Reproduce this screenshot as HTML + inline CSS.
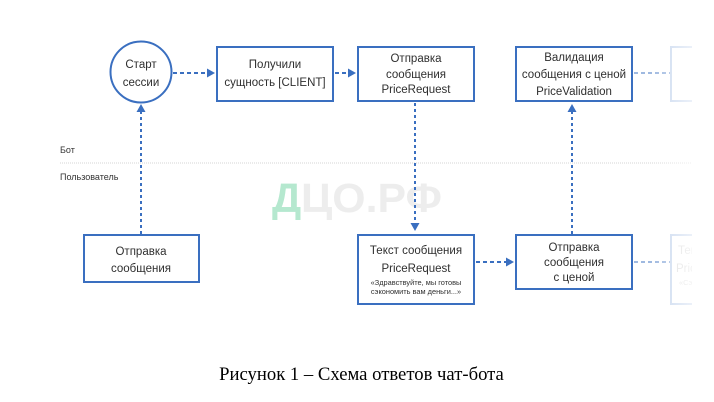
<!DOCTYPE html>
<html>
<head>
<meta charset="utf-8">
<style>
  html,body{margin:0;padding:0;background:#fff;}
  body{width:714px;height:402px;overflow:hidden;}
  svg{display:block;}
  .t{font-family:"Liberation Sans","Noto Sans CJK SC",sans-serif;font-size:11.5px;fill:#2f2f2f;text-anchor:middle;}
  .s{font-family:"Liberation Sans","Noto Sans CJK SC",sans-serif;font-size:7.4px;fill:#2f2f2f;text-anchor:middle;}
  .l{font-family:"Liberation Sans","Noto Sans CJK SC",sans-serif;font-size:9px;fill:#333;}
  .cap{font-family:"Liberation Serif","Noto Serif CJK SC",serif;font-size:18.67px;fill:#000;text-anchor:middle;}
</style>
</head>
<body>
<svg width="714" height="402" viewBox="0 0 714 402" xmlns="http://www.w3.org/2000/svg">
  <defs>
    <linearGradient id="fade" x1="0" x2="1" y1="0" y2="0">
      <stop offset="0" stop-color="#fff" stop-opacity="0"/>
      <stop offset="1" stop-color="#fff" stop-opacity="1"/>
    </linearGradient>
  </defs>

  <!-- lane labels and divider -->
  <text class="l" x="60" y="153">Бот</text>
  <line x1="60" y1="163" x2="700" y2="163" stroke="#d6d6d6" stroke-width="1" stroke-dasharray="1 1"/>
  <text class="l" x="60" y="180">Пользователь</text>

  <!-- watermark -->
  <text x="272" y="212" font-family="Liberation Sans, sans-serif" font-size="41" font-weight="bold" fill="#b5e8cf">Д</text>
  <text x="301" y="212" font-family="Liberation Sans, sans-serif" font-size="41" font-weight="bold" fill="#ededed" textLength="141" lengthAdjust="spacingAndGlyphs">ЦО.РФ</text>

  <!-- faded elements on the right -->
  <line x1="634" y1="73" x2="670" y2="73" stroke="#9fb9e0" stroke-width="2" stroke-dasharray="4 3"/>
  <rect x="671" y="47" width="60" height="54" fill="#fff" stroke="#c8d7ee" stroke-width="2"/>
  <line x1="634" y1="262" x2="670" y2="262" stroke="#9fb9e0" stroke-width="2" stroke-dasharray="4 3"/>
  <rect x="671" y="235" width="60" height="69" fill="#fff" stroke="#c8d7ee" stroke-width="2"/>
  <text x="678" y="254" font-family="Liberation Sans, sans-serif" font-size="11.5" fill="#dcdcdc">Текст</text>
  <text x="676" y="272" font-family="Liberation Sans, sans-serif" font-size="11.5" fill="#dcdcdc">PriceRequest</text>
  <text x="679" y="285" font-family="Liberation Sans, sans-serif" font-size="7.4" fill="#dcdcdc">«Сэкономить</text>
  <rect x="652" y="30" width="62" height="290" fill="url(#fade)"/>
  <rect x="692" y="30" width="22" height="290" fill="#fff"/>

  <!-- connectors -->
  <g stroke="#3a6fc0" stroke-width="2" fill="none">
    <line x1="173" y1="73" x2="208" y2="73" stroke-dasharray="4 3"/>
    <line x1="335" y1="73" x2="349" y2="73" stroke-dasharray="4 3"/>
    <line x1="415" y1="103" x2="415" y2="225" stroke-dasharray="3 3"/>
    <line x1="141" y1="234" x2="141" y2="110" stroke-dasharray="3 3"/>
    <line x1="572" y1="234" x2="572" y2="110" stroke-dasharray="3 3"/>
    <line x1="476" y1="262" x2="507" y2="262" stroke-dasharray="4 3"/>
  </g>
  <g fill="#3a6fc0">
    <polygon points="215,73 207,68.5 207,77.5"/>
    <polygon points="356,73 348,68.5 348,77.5"/>
    <polygon points="415,231 410.5,223 419.5,223"/>
    <polygon points="141,104 136.5,112 145.5,112"/>
    <polygon points="572,104 567.5,112 576.5,112"/>
    <polygon points="514,262 506,257.5 506,266.5"/>
  </g>

  <!-- nodes top -->
  <circle cx="141" cy="72" r="30.5" fill="#fff" stroke="#3a6fc0" stroke-width="2"/>
  <text class="t" x="141" y="68">Старт</text>
  <text class="t" x="141" y="86">сессии</text>

  <rect x="217" y="47" width="116" height="54" fill="#fff" stroke="#3a6fc0" stroke-width="2"/>
  <text class="t" x="275" y="68">Получили</text>
  <text class="t" x="275" y="86">сущность [CLIENT]</text>

  <rect x="358" y="47" width="116" height="54" fill="#fff" stroke="#3a6fc0" stroke-width="2"/>
  <text class="t" x="416" y="62">Отправка</text>
  <text class="t" x="416" y="78">сообщения</text>
  <text class="t" x="416" y="93">PriceRequest</text>

  <rect x="516" y="47" width="116" height="54" fill="#fff" stroke="#3a6fc0" stroke-width="2"/>
  <text class="t" x="574" y="61">Валидация</text>
  <text class="t" x="574" y="78">сообщения с ценой</text>
  <text class="t" x="574" y="95">PriceValidation</text>

  <!-- nodes bottom -->
  <rect x="84" y="235" width="115" height="47" fill="#fff" stroke="#3a6fc0" stroke-width="2"/>
  <text class="t" x="141" y="255">Отправка</text>
  <text class="t" x="141" y="272">сообщения</text>

  <rect x="358" y="235" width="116" height="69" fill="#fff" stroke="#3a6fc0" stroke-width="2"/>
  <text class="t" x="416" y="254">Текст сообщения</text>
  <text class="t" x="416" y="272">PriceRequest</text>
  <text class="s" x="416" y="285">«Здравствуйте, мы готовы</text>
  <text class="s" x="416" y="294">сэкономить вам деньги...»</text>

  <rect x="516" y="235" width="116" height="54" fill="#fff" stroke="#3a6fc0" stroke-width="2"/>
  <text class="t" x="574" y="251">Отправка</text>
  <text class="t" x="574" y="266">сообщения</text>
  <text class="t" x="574" y="281">с ценой</text>

  <!-- caption -->
  <text class="cap" x="361.5" y="380">Рисунок 1 – Схема ответов чат-бота</text>
</svg>
</body>
</html>
